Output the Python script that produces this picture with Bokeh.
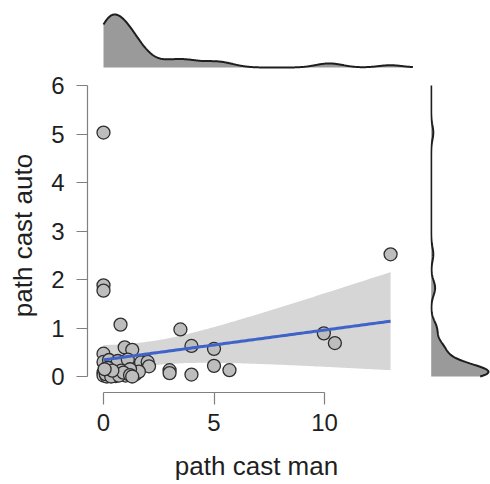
import numpy as np
from bokeh.plotting import figure
from bokeh.models import Range1d, FixedTicker
from bokeh.layouts import column, row
from bokeh.embed import file_html
from bokeh.resources import INLINE

# ---- data ----
path_cast_man = [0, 0, 0, 0.77, 0, 0.96, 1.3, 0, 0.25, 0.65, 1.1, 1.7, 2.0, 2.06, 0,
                 0, 0.15, 0.45, 0.55, 0.6, 1.0, 1.0, 1.45, 1.6, 0.3, 0.8, 3.48, 3.98,
                 5.0, 2.99, 2.99, 3.98, 5.0, 5.7, 9.97, 10.47, 12.99, 0.2, 1.2, 0.1,
                 0.35, 0.7, 0.9, 1.2, 0.4, 1.3, 0.05]
path_cast_auto = [5.03, 1.88, 1.77, 1.07, 0.47, 0.60, 0.55, 0.30, 0.34, 0.32, 0.35, 0.29,
                  0.30, 0.21, 0.08, 0.02, 0.0, 0.09, 0.01, 0.05, 0.06, 0.02, 0.05, 0.10,
                  0.04, 0.12, 0.97, 0.63, 0.57, 0.13, 0.07, 0.04, 0.22, 0.13, 0.89, 0.69,
                  2.52, 0.18, 0.15, 0.05, 0.0, 0.02, 0.08, 0.03, 0.12, 0.0, 0.15]
x_ticks = [0, 5, 10]
y_ticks = [0, 1, 2, 3, 4, 5, 6]
x_title = "path cast man"
y_title = "path cast auto"
x_density_span = [0, 14]
y_density_span = [0, 6]

FONT = "Liberation Sans"
TEXT_COLOR = "#1f1f1f"

x = np.array(path_cast_man, dtype=float)
y = np.array(path_cast_auto, dtype=float)
n = len(x)

# linear fit with 95% confidence band
b1, b0 = np.polyfit(x, y, 1)
xs = np.linspace(x.min(), x.max(), 120)
fit = b0 + b1 * xs
resid = y - (b0 + b1 * x)
s = np.sqrt(np.sum(resid ** 2) / (n - 2))
sxx = np.sum((x - x.mean()) ** 2)
t_q = 2.014
se = s * np.sqrt(1.0 / n + (xs - x.mean()) ** 2 / sxx)
lo, hi = fit - t_q * se, fit + t_q * se


def bw_nrd0(v):
    sd = v.std(ddof=1)
    q75, q25 = np.percentile(v, [75, 25])
    return 0.9 * min(sd, (q75 - q25) / 1.34) * len(v) ** -0.2


def kde(v, grid):
    h = bw_nrd0(v)
    z = (grid[:, None] - v[None, :]) / h
    return np.exp(-0.5 * z ** 2).sum(axis=1) / (len(v) * h * np.sqrt(2 * np.pi))


gx = np.linspace(x_density_span[0], x_density_span[1], 400)
dx = kde(x, gx)
gy = np.linspace(y_density_span[0], y_density_span[1], 400)
dy = kde(y, gy)

# ---- layout geometry ----
TOP_H = 70
W_MAIN, H_MAIN = 430, 484 - TOP_H
BL, BR, BB = 87, 5, 92
BT = 78 - TOP_H
frame_w = W_MAIN - BL - BR
frame_h = H_MAIN - BT - BB
px_x = 22.1
px_y = 48.5
x0 = -16 / px_x
xr = Range1d(x0, x0 + frame_w / px_x)
y0 = -16 / px_y
yr = Range1d(y0, y0 + frame_h / px_y)

main = figure(width=W_MAIN, height=H_MAIN, x_range=xr, y_range=yr,
              output_backend="svg", toolbar_location=None,
              min_border_left=BL, min_border_right=BR,
              min_border_top=BT, min_border_bottom=BB)
main.grid.visible = False
main.outline_line_color = None
main.background_fill_color = "white"
main.border_fill_color = "white"

main.varea(x=xs, y1=lo, y2=hi, fill_color="#d6d6d6")
main.scatter(x, y, size=13, fill_color="#bdbdbd", line_color="#2e2e2e", line_width=1.3)
main.line(xs, fit, line_color="#3f63c8", line_width=3)

for ax, ticks, bounds in ((main.xaxis[0], x_ticks, (0, 10)), (main.yaxis[0], y_ticks, (0, 6))):
    ax.ticker = FixedTicker(ticks=ticks)
    ax.bounds = bounds
    ax.minor_tick_line_color = None
    ax.major_tick_in = 0
    ax.axis_line_color = "#808080"
    ax.axis_line_width = 1.2
    ax.major_tick_line_color = "#808080"
    ax.major_tick_line_width = 1.2
    ax.major_label_text_font = FONT
    ax.major_label_text_font_size = "24px"
    ax.major_label_text_color = TEXT_COLOR
    ax.axis_label_text_font = FONT
    ax.axis_label_text_font_size = "26px"
    ax.axis_label_text_font_style = "normal"
    ax.axis_label_text_color = TEXT_COLOR

main.xaxis[0].major_tick_out = 12
main.xaxis[0].major_label_standoff = 9
main.xaxis[0].axis_label = x_title
main.xaxis[0].axis_label_standoff = 17
main.yaxis[0].major_tick_out = 11
main.yaxis[0].major_label_standoff = 12
main.yaxis[0].axis_label = y_title
main.yaxis[0].axis_label_standoff = 10

# ---- top density (baseline at y=67, peak at y=14 of the page) ----
dmax = dx.max()
per = dmax / 53.0
ty0 = -(TOP_H - 67) * per
top = figure(width=W_MAIN, height=TOP_H, x_range=xr, y_range=Range1d(ty0, ty0 + TOP_H * per),
             output_backend="svg", toolbar_location=None,
             x_axis_location=None, y_axis_location=None,
             min_border_left=BL, min_border_right=BR, min_border_top=0, min_border_bottom=0)
top.grid.visible = False
top.outline_line_color = None
top.varea(x=gx, y1=np.zeros_like(gx), y2=dx, fill_color="#9a9a9a")
top.line(gx, dx, line_color="#1e1e1e", line_width=2)

# ---- right density ----
RW = 490 - W_MAIN
dymax = dy.max()
perr = dymax / 57.3
rx0 = -0.7 * perr
right = figure(width=RW, height=H_MAIN, x_range=Range1d(rx0, rx0 + RW * perr), y_range=yr,
               output_backend="svg", toolbar_location=None,
               x_axis_location=None, y_axis_location=None,
               min_border_left=0, min_border_right=0, min_border_top=BT, min_border_bottom=BB)
right.grid.visible = False
right.outline_line_color = None
right.harea(x1=np.zeros_like(gy), x2=dy, y=gy, fill_color="#9a9a9a")
right.line(dy, gy, line_color="#1e1e1e", line_width=2)

layout = column(top, row(main, right, spacing=0), spacing=0)
open("out.html", "w").write(file_html(layout, INLINE))
